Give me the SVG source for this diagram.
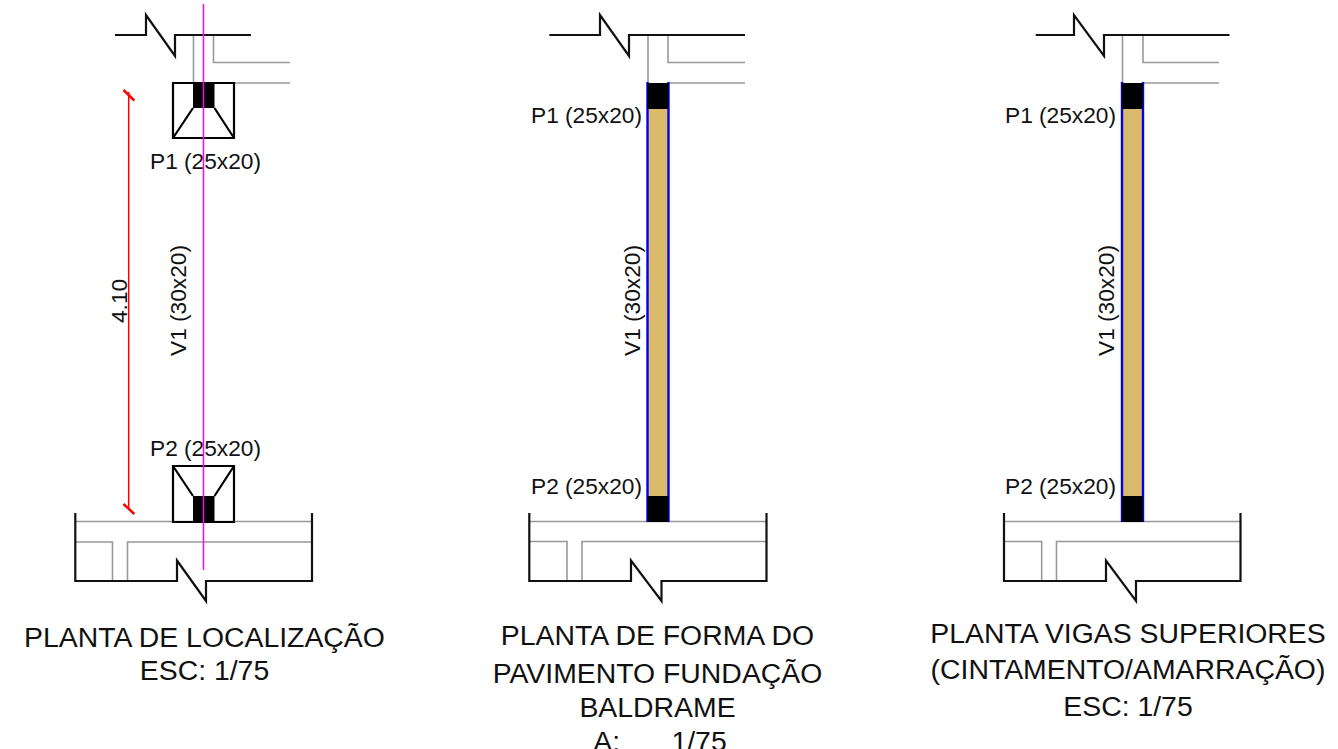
<svg xmlns="http://www.w3.org/2000/svg" width="1338" height="749" viewBox="0 0 1338 749">
<style>
text{font-family:"Liberation Sans",Arial,sans-serif;fill:#111}
.l{font-size:22.700px}
.t{font-size:28.400px;text-anchor:middle}
.k{fill:none;stroke:#111;stroke-width:2.200}
.g{fill:none;stroke:#999;stroke-width:1.600}
.c{fill:#000}
.b{fill:none;stroke:#0000f0;stroke-width:2.400}
.tan{fill:#dbbb6b}
.box{fill:none;stroke:#000;stroke-width:2.200}
</style>
<rect width="1338" height="749" fill="#fff"/>
<g id="planta-localizacao">
<path class="g" d="M193.500 35V83M213.500 35V62.500H290M234 83H290M75 521.500H312M75 542H112.500V581M127.500 581V542H312"/>
<path class="k" d="M115 35H146V15L175 56V35H251M75.300 513V581H177V560.500L206 601V581H312V513"/>
<g id="P1-loc"><rect class="c" x="193" y="83" width="21.500" height="25"/><path class="box" d="M173 83H234V138H173ZM193 108L173 138M214.500 108L234 138"/><text class="l" x="150" y="169">P1 (25x20)</text></g>
<g id="P2-loc"><rect class="c" x="193" y="496" width="21.500" height="26"/><path class="box" d="M173 466H234V522H173ZM193 496L173 466M214.500 496L234 466"/><text class="l" x="150" y="456">P2 (25x20)</text></g>
<text class="l" transform="translate(186 356) rotate(-90)">V1 (30x20)</text>
<g id="cota"><text class="l" transform="translate(126.700 323) rotate(-90)">4.10</text><path fill="none" stroke="#f00" stroke-width="1.500" d="M128.700 92V510"/><path fill="none" stroke="#f00" stroke-width="2.500" d="M123.500 90L134.300 100.500M123.500 504L134.300 514"/></g>
<path fill="none" stroke="#f0f" stroke-width="1.500" d="M203.500 4V570"/>
<text class="t" x="204.500" y="646.500">PLANTA DE LOCALIZAÇÃO</text>
<text class="t" x="204.500" y="680">ESC: 1/75</text>
</g>
<g id="planta-forma">
<path class="g" d="M648 35V83M668 35V62.500H745M668 83H745M529 521.500H766.500M529 541.500H567V581M582 581V541.500H766.500"/>
<path class="k" d="M549.300 35H600V15L629 56V35H745M529.300 513V581H631V560.500L661.500 601V581H766.500V513"/>
<g id="V1-forma"><rect class="tan" x="647" y="109" width="22" height="387"/><path class="b" d="M647.500 82V522M668.500 82V522"/><rect class="c" x="647.500" y="83" width="21" height="26"/><rect class="c" x="647.500" y="496" width="21" height="26"/></g>
<text class="l" x="531" y="123">P1 (25x20)</text>
<text class="l" x="531" y="493.500">P2 (25x20)</text>
<text class="l" transform="translate(639.500 356) rotate(-90)">V1 (30x20)</text>
<text class="t" x="657.500" y="644.500">PLANTA DE FORMA DO</text>
<text class="t" x="657.500" y="682.700">PAVIMENTO FUNDAÇÃO</text>
<text class="t" x="657.500" y="716.700">BALDRAME</text>
<text class="t" x="660" y="750.500" xml:space="preserve">A:      <tspan dx="4">1/75</tspan></text>
</g>
<g id="planta-vigas">
<path class="g" d="M1122.500 35V83M1143 35V62.500H1219M1143 83H1219M1004 521.500H1240.500M1004 541.500H1041.700V581M1056.500 581V541.500H1240.500"/>
<path class="k" d="M1035.700 35H1074V15L1104 56V35H1229.500M1004 513V581H1106V560.500L1136 601V581H1240.500V513"/>
<g id="V1-vigas"><rect class="tan" x="1121.500" y="109" width="22" height="387"/><path class="b" d="M1122 82V522M1143 82V522"/><rect class="c" x="1122" y="83" width="21" height="26"/><rect class="c" x="1122" y="496" width="21" height="26"/></g>
<text class="l" x="1005" y="123">P1 (25x20)</text>
<text class="l" x="1005" y="493.500">P2 (25x20)</text>
<text class="l" transform="translate(1114 356) rotate(-90)">V1 (30x20)</text>
<text class="t" x="1128" y="643">PLANTA VIGAS SUPERIORES</text>
<text class="t" x="1128" y="679">(CINTAMENTO/AMARRAÇÃO)</text>
<text class="t" x="1128" y="716">ESC: 1/75</text>
</g>
</svg>
